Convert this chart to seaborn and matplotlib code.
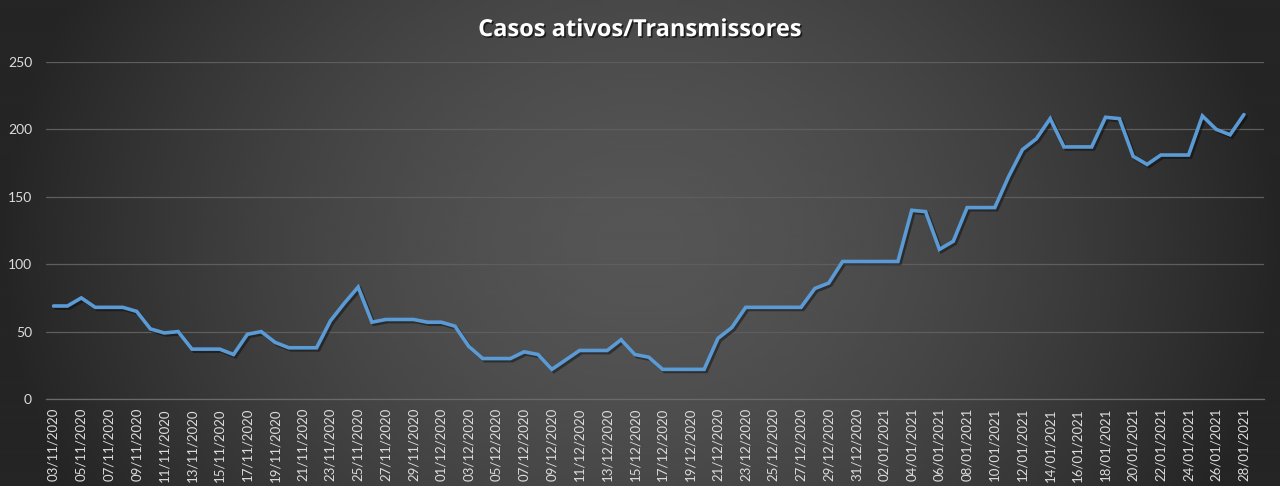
import numpy as np
import pandas as pd
import matplotlib.pyplot as plt
import matplotlib.patheffects as pe
import seaborn as sns

# daily values, 03/11/2020 .. 28/01/2021
dates = pd.date_range("2020-11-03", "2021-01-28", freq="D")
casos = [
    69, 69, 75, 68, 68, 68, 65, 52, 49, 50, 37, 37, 37, 33, 48, 50, 42, 38,
    38, 38, 58, 71, 83, 57, 59, 59, 59, 57, 57, 54, 39, 30, 30, 30, 35, 33,
    22, 29, 36, 36, 36, 44, 33, 31, 22, 22, 22, 22, 45, 53, 68, 68, 68, 68,
    68, 82, 86, 102, 102, 102, 102, 102, 140, 139, 111, 117, 142, 142, 142,
    165, 185, 193, 208, 187, 187, 187, 209, 208, 180, 174, 181, 181, 181,
    210, 200, 196, 211,
]
date_labels = [d.strftime("%d/%m/%Y") for d in dates]
y_ticks = [0, 50, 100, 150, 200, 250]

df = pd.DataFrame({"pos": np.arange(len(casos)), "casos": casos})

sns.set_theme(style="dark")
plt.rcParams["font.family"] = ["Lato", "DejaVu Sans"]

fig = plt.figure(figsize=(12.8, 4.86), dpi=100)

# dark radial background like the Excel chart style
bg = fig.add_axes([0, 0, 1, 1], zorder=-10)
gx, gy = np.meshgrid(np.linspace(-1, 1, 640), np.linspace(-1, 1, 243))
dist = np.clip(np.sqrt(gx ** 2 + (gy * 0.45) ** 2), 0, 1)
shade = 0.335 - (0.335 - 0.145) * dist ** 1.6
bg.imshow(shade, cmap="gray", vmin=0, vmax=1, aspect="auto",
          extent=[0, 1, 0, 1], interpolation="bicubic")
bg.set_axis_off()

ax = fig.add_axes([46 / 1280, 0.179, 1218 / 1280, 0.6934])
ax.set_facecolor("none")

sns.lineplot(data=df, x="pos", y="casos", ax=ax, color="#5b9bd5",
             linewidth=2.6, solid_joinstyle="miter")
ax.lines[0].set_path_effects([
    pe.SimpleLineShadow(offset=(1.5, -1.5), shadow_color="black", alpha=0.4),
    pe.Normal(),
])

ax.set_xlim(-0.55, len(casos) + 0.45)
ax.set_ylim(0, 250)
ax.set_yticks(y_ticks)
ax.set_xticks(np.arange(0, len(casos), 2))
ax.set_xticklabels(date_labels[::2], rotation=90)
ax.tick_params(axis="x", colors="#dcdcdc", labelsize=9.5, length=0, pad=6.5)
ax.tick_params(axis="y", colors="#dcdcdc", labelsize=10, length=0, pad=10)
ax.set_xlabel("")
ax.set_ylabel("")

ax.yaxis.grid(True, color="#5e5e5e", linewidth=0.9)
ax.xaxis.grid(False)
ax.set_axisbelow(True)
for side in ["top", "right", "left"]:
    ax.spines[side].set_visible(False)
ax.spines["bottom"].set_color("#6a6a6a")
ax.spines["bottom"].set_linewidth(0.9)

fig.text(0.5, 0.938, "Casos ativos/Transmissores", ha="center", va="center",
         color="white", fontsize=17, fontweight="bold", family="Open Sans",
         path_effects=[pe.withSimplePatchShadow(offset=(1.2, -1.2),
                                                shadow_rgbFace="black",
                                                alpha=0.6)])

fig.savefig("out.png", dpi=100)
